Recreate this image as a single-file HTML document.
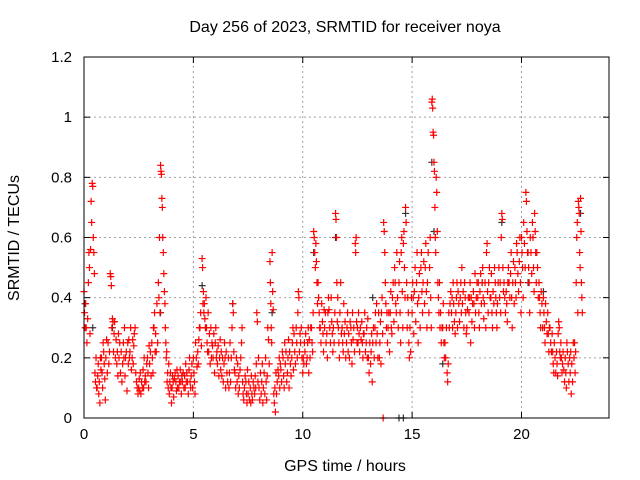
<!DOCTYPE html>
<html><head><meta charset="utf-8"><style>
body{margin:0;background:#fff}
svg{display:block;font-family:"Liberation Sans",sans-serif}
</style></head><body>
<svg id="chart" width="640" height="480" viewBox="0 0 640 480">
<rect width="640" height="480" fill="#fff"/>
<text x="345" y="32" font-size="16" text-anchor="middle">Day 256 of 2023, SRMTID for receiver noya</text>
<text x="19" y="238" font-size="16" text-anchor="middle" transform="rotate(-90 19 238)">SRMTID / TECUs</text>
<text x="345" y="471" font-size="16" text-anchor="middle">GPS time / hours</text>
<g id="grid"></g><g id="ticks"></g><g id="marks"></g>
<rect x="84" y="57" width="525" height="361" fill="none" stroke="#000" stroke-width="1"/>
</svg>
<script>
const xTicks=[0,5,10,15,20];
const yTicks=[0,0.2,0.4,0.6,0.8,1,1.2];
const yTickLabels=["0","0.2","0.4","0.6","0.8","1","1.2"];
const startHour=0, stepHours=0.1;
const redGroups=[
[.42,.35,.30,.38],[.30,.25,.33],[.45,.55,.5,.28],[.56,.72,.65,.78],[.77,.6,.55,.48],[.15,.12,.2,.1],[.1,.14,.18,.08],[.12,.05,.2,.16],[.2,.15,.1,.25],[.22,.18,.13,.06],
[.2,.26,.15],[.25,.18,.22],[.48,.47,.44,.3],[.33,.32,.22,.28],[.32,.2,.26],[.18,.22,.14,.28],[.2,.25,.15],[.22,.12,.18],[.25,.2,.3,.14],[.2,.22,.09],
[.25,.18,.26,.2],[.22,.3,.16],[.2,.26,.18,.24],[.28,.3,.15],[.12,.1,.08],[.1,.13,.09,.15],[.08,.12,.1],[.16,.1,.2,.12],[.14,.12,.18],[.2,.15,.1,.24],
[.18,.22,.14],[.25,.2,.15,.3],[.3,.35,.22,.28],[.22,.38,.25],[.45,.4,.6,.35],[.84,.82,.81,.73,.7],[.6,.55,.48,.42],[.38,.3,.25,.2,.22],[.12,.15,.1,.18],[.08,.12,.15,.1],
[.05,.1,.14,.12],[.07,.13,.15],[.12,.09,.16,.1],[.14,.1,.12],[.16,.12,.08,.14],[.12,.15,.1],[.14,.1,.18,.12],[.15,.12,.08],[.16,.2,.12,.1],[.14,.18,.1],
[.2,.15,.12,.08],[.25,.2,.17],[.22,.18,.26,.3],[.3,.35,.24],[.53,.5,.38,.42,.35],[.38,.33,.3,.4],[.3,.25,.22,.35],[.22,.28,.18],[.3,.2,.25,.24],[.2,.28,.15],
[.25,.3,.2,.22],[.18,.24,.14],[.2,.26,.16,.22],[.14,.2,.12],[.18,.25,.2,.1],[.22,.15,.12],[.2,.1,.15,.25],[.12,.2,.3],[.38,.35,.22,.16],[.15,.1,.2],
[.12,.18,.08,.14],[.1,.16,.2],[.25,.3,.12,.08],[.06,.1,.14],[.12,.08,.05,.16],[.08,.12,.06],[.1,.05,.14,.08],[.06,.12,.1],[.08,.14,.1,.18],[.35,.32,.12,.2],
[.1,.06,.15],[.08,.12,.18,.05],[.1,.15,.08],[.2,.12,.06,.14],[.3,.26,.18],[.52,.45,.38,.3,.25],[.55,.42,.36,.08],[.05,.1,.02,.15],[.08,.12,.16],[.14,.2,.1,.18],
[.16,.12,.22],[.2,.14,.1,.25],[.18,.22,.12],[.15,.2,.26,.1],[.22,.18,.14],[.2,.25,.3,.16],[.28,.22,.18],[.3,.25,.2,.35],[.42,.4,.22,.28],[.25,.3,.2],
[.15,.2,.18,.25],[.22,.28,.18],[.2,.25,.3,.15],[.26,.2,.3],[.3,.25,.22,.35],[.62,.6,.55,.5],[.58,.52,.45,.38],[.45,.4,.35,.3],[.3,.25,.38],[.32,.28,.22,.36],
[.3,.35,.25],[.28,.2,.35,.4],[.36,.3,.25],[.4,.32,.28,.22],[.3,.25,.35],[.68,.66,.6,.45,.32],[.4,.3,.25,.2],[.35,.45,.28],[.3,.25,.22,.38],[.28,.32,.2],
[.25,.3,.35,.22],[.28,.2,.32],[.3,.25,.18,.35],[.26,.3,.22],[.58,.55,.6,.32,.25],[.3,.25,.35,.28],[.22,.3,.26],[.32,.25,.2,.28],[.28,.35,.22],[.25,.3,.2,.33],
[.2,.15,.25],[.18,.22,.28,.12],[.25,.3,.2],[.3,.35,.25,.38],[.28,.2,.35],[.2,.25,.32,.18],[.35,.4,.28,0],[.65,.62,.55,.45],[.38,.3,.35,.25],[.3,.35,.22],
[.35,.42,.3,.28],[.4,.45,.32],[.5,.45,.38,.35],[.55,.4,.3],[.45,.52,.35,.25],[.55,.6,.42,.3],[.58,.62,.5,.4],[.7,.65,.45,.3],[.4,.35,.25,.2],[.3,.22,.4],
[.35,.45,.4,.28],[.42,.5,.32],[.45,.55,.38,.25],[.4,.48,.3],[.5,.55,.42,.35],[.45,.52,.38],[.5,.58,.42,.3],[.45,.55,.35],[.5,.6,.4,.3],[1.05,1.06,1.03,.95,.94],
[.85,.82,.7,.6,.55],[.8,.75,.62,.45],[.4,.35,.45,.3],[.35,.25,.3],[.3,.38,.25,.2],[.25,.2,.3],[.15,.12,.18,.35],[.3,.38,.42],[.35,.4,.3,.45],[.38,.32,.28],
[.35,.4,.45,.3],[.42,.38,.32],[.4,.45,.35,.5],[.38,.42,.3],[.45,.4,.35,.28],[.3,.36,.4],[.35,.4,.45,.25],[.4,.32,.38],[.42,.38,.3,.48],[.35,.4,.45],
[.4,.45,.35,.3],[.42,.48,.38],[.45,.5,.4,.33],[.38,.45,.3],[.55,.58,.42,.35],[.45,.5,.4],[.4,.48,.35,.3],[.42,.38,.5],[.45,.4,.35,.3],[.38,.45,.5],
[.4,.45,.35,.6],[.68,.66,.5,.42],[.45,.4,.35],[.42,.38,.32,.45],[.5,.45,.4],[.48,.55,.4,.3],[.45,.52,.38],[.5,.45,.4,.58],[.55,.48,.42],[.52,.6,.45,.35],
[.6,.55,.5,.4],[.65,.58,.5],[.75,.72,.62,.55],[.55,.5,.45,.35],[.6,.55,.48],[.65,.6,.5,.42],[.68,.62,.55,.45],[.55,.5,.4],[.45,.4,.35,.3],[.42,.38,.3],
[.4,.35,.3,.25],[.38,.32,.28],[.35,.28,.22,.3],[.3,.25,.22],[.28,.22,.18,.15],[.25,.2,.15],[.22,.18,.14,.28],[.32,.3,.22,.2],[.25,.2,.15,.18],[.22,.16,.12],
[.2,.15,.1,.25],[.22,.18,.12],[.2,.15,.22,.08],[.18,.12,.25],[.2,.25,.15,.22],[.45,.6,.65,.35],[.72,.7,.68,.55,.5],[.73,.62,.45,.4,.35]
];
const blackTimes=[0.05,0.4,1.3,3.5,5.4,6.8,8.6,10.5,11.5,13.2,14.4,14.6,14.7,15.9,16.0,16.4,18.2,19.1,20.3,21.0,22.7];
const blackValues=[0.38,0.3,0.3,0.35,0.44,0.38,0.35,0.55,0.6,0.4,0,0,0.68,0.85,0.62,0.18,0.45,0.65,0.45,0.42,0.68];
const X0=84,X1=609,Y0=418,Y1=57,XMAX=24,YMAX=1.2;
const sx=t=>X0+t/XMAX*(X1-X0);
const sy=v=>Y0-v/YMAX*(Y0-Y1);
const NS="http://www.w3.org/2000/svg";
function mk(tag,attrs,parent){const e=document.createElementNS(NS,tag);for(const k in attrs)e.setAttribute(k,attrs[k]);parent.appendChild(e);return e;}
const grid=document.getElementById('grid'),ticks=document.getElementById('ticks'),marks=document.getElementById('marks');
xTicks.forEach(t=>{const x=sx(t);
 if(t>0){const g=mk('line',{x1:x,x2:x,y1:Y0,y2:Y1,stroke:'#a0a0a0','stroke-dasharray':'2,3'},grid);
 
 }
 mk('line',{x1:x,x2:x,y1:Y0,y2:Y0-6,stroke:'#000'},ticks);
 mk('line',{x1:x,x2:x,y1:Y1,y2:Y1+6,stroke:'#000'},ticks);
 const l=mk('text',{x:x,y:Y0+21,'font-size':15,'text-anchor':'middle'},ticks);l.textContent=t;
 
 
});
yTicks.forEach((v,i)=>{const y=sy(v);
 if(v>0&&v<YMAX){const g=mk('line',{x1:X0,x2:X1,y1:y,y2:y,stroke:'#a0a0a0','stroke-dasharray':'2,3'},grid);
 
 }
 mk('line',{x1:X0,x2:X0+6,y1:y,y2:y,stroke:'#000'},ticks);
 mk('line',{x1:X1,x2:X1-6,y1:y,y2:y,stroke:'#000'},ticks);
 const l=mk('text',{x:X0-12,y:y+5,'font-size':15,'text-anchor':'end'},ticks);l.textContent=yTickLabels[i];
 
 
});
function cross(x,y,color,name){const p=mk('path',{d:`M${x-3.5} ${y}h7M${x} ${y-3.5}v7`,stroke:color,'stroke-width':1.2,fill:'none'},marks);
 
 }
blackTimes.forEach((t,i)=>cross(sx(t),sy(blackValues[i]),'#333','black-point'));
redGroups.forEach((grp,i)=>{grp.forEach((v,j)=>{const t=startHour+i*stepHours+j*stepHours/grp.length;cross(sx(t),sy(v),'#ff0000','red-point');});});
</script>
</body></html>
